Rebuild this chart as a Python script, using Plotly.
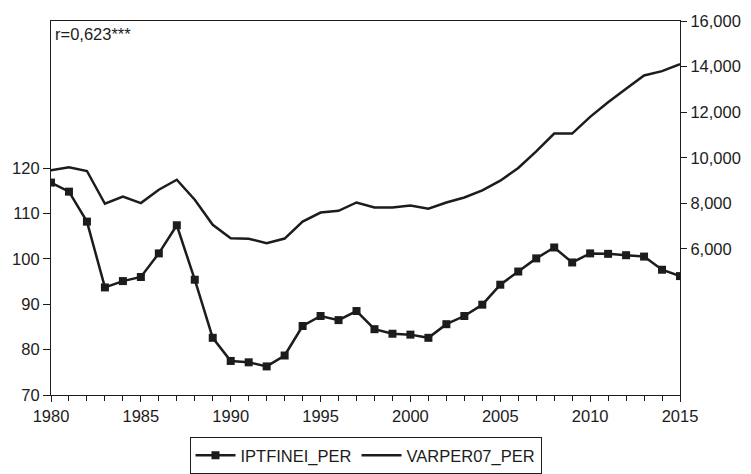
import plotly.graph_objects as go

years = list(range(1980, 2016))
iptfinei_per = [116.8, 114.8, 108.2, 93.7, 95.1, 96.0, 101.2, 107.4, 95.4, 82.6,
                77.5, 77.2, 76.3, 78.7, 85.2, 87.4, 86.5, 88.5, 84.5, 83.5,
                83.3, 82.6, 85.6, 87.4, 89.9, 94.3, 97.2, 100.1, 102.5, 99.2,
                101.2, 101.1, 100.8, 100.5, 97.6, 96.2]
varper07_per = [9446, 9578, 9419, 7981, 8302, 8012, 8597, 9036, 8157, 7057,
                6472, 6450, 6252, 6455, 7202, 7598, 7673, 8038, 7818, 7818,
                7906, 7761, 8038, 8258, 8566, 8993, 9551, 10282, 11060, 11060,
                11795, 12437, 13026, 13611, 13801, 14110]

x_ticks = [1980, 1985, 1990, 1995, 2000, 2005, 2010, 2015]
left_ticks = [70, 80, 90, 100, 110, 120]
right_ticks = [6000, 8000, 10000, 12000, 14000, 16000]
annotation_text = "r=0,623***"

ink = "#1c1c1c"
font = dict(family="Liberation Sans, Arial, sans-serif", size=16.5, color=ink)

fig = go.Figure()
fig.add_trace(go.Scatter(
    x=years, y=iptfinei_per, name="IPTFINEI_PER", mode="lines+markers",
    line=dict(color=ink, width=2.5),
    marker=dict(symbol="square", size=8, color=ink),
    yaxis="y"))
fig.add_trace(go.Scatter(
    x=years, y=varper07_per, name="VARPER07_PER", mode="lines",
    line=dict(color=ink, width=2.5),
    yaxis="y2"))

axis_common = dict(showgrid=False, zeroline=False, showline=True,
                   linecolor=ink, linewidth=1.2, ticks="outside",
                   tickcolor=ink, tickfont=font, automargin=False)

fig.update_layout(
    width=751, height=474,
    margin=dict(l=51, r=71, t=21, b=79, autoexpand=False),
    paper_bgcolor="white", plot_bgcolor="white",
    font=font,
    xaxis=dict(range=[1980, 2015], tickvals=x_ticks, ticklen=6, mirror=True,
               minor=dict(ticks="outside", dtick=1, ticklen=5, tickcolor=ink),
               **axis_common),
    yaxis=dict(range=[70, 152.4], tickvals=left_ticks, ticklen=7, **axis_common),
    yaxis2=dict(range=[-408, 16000], tickvals=right_ticks, tickformat=",",
                ticklen=6, overlaying="y", side="right", **axis_common),
    legend=dict(orientation="h", x=0.5, xanchor="center",
                yref="container", y=0.0, yanchor="bottom",
                bordercolor=ink, borderwidth=1, font=font,
                itemwidth=40, tracegroupgap=0),
    showlegend=True,
    annotations=[dict(text=annotation_text, xref="paper", yref="paper",
                      x=0.003, y=0.995, xanchor="left", yanchor="top",
                      showarrow=False, font=font)],
)

fig.write_html("out.html")
